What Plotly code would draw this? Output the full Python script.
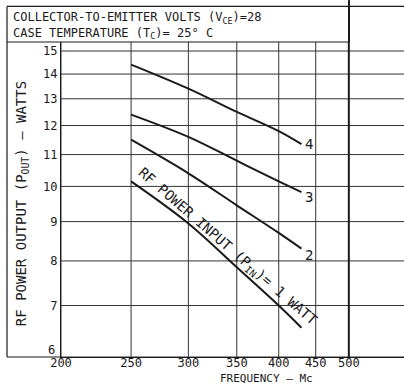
import numpy as np
import plotly.graph_objects as go

# RF power output vs frequency, one curve per input power
freq = [250, 300, 350, 400, 430]
pout_4w = [14.4, 13.4, 12.5, 11.8, 11.35]
pout_3w = [12.4, 11.6, 10.8, 10.15, 9.83]
pout_2w = [11.5, 10.4, 9.45, 8.7, 8.3]
pout_1w = [10.15, 8.95, 7.85, 7.0, 6.55]

x_ticks = [200, 250, 300, 350, 400, 450, 500]
y_ticks = [6, 7, 8, 9, 10, 11, 12, 13, 14, 15]

X_MIN, X_MAX = 200, 596
Y_MIN, Y_MAX = 6, 15.41

MONO = "DejaVu Sans Mono"
INK = "#1a1a1a"

fig = go.Figure()

# grid drawn as line traces so it follows the log axes
gx, gy = [], []
for v in x_ticks[:-1]:
    gx += [v, v, None]
    gy += [Y_MIN, Y_MAX, None]
for v in y_ticks:
    gx += [X_MIN, X_MAX, None]
    gy += [v, v, None]
fig.add_trace(go.Scatter(x=gx, y=gy, mode="lines", line=dict(color="#333", width=1),
                         showlegend=False, hoverinfo="skip"))
fig.add_trace(go.Scatter(x=[500, 500], y=[Y_MIN, Y_MAX], mode="lines",
                         line=dict(color=INK, width=2), showlegend=False, hoverinfo="skip"))

for p in [pout_4w, pout_3w, pout_2w, pout_1w]:
    fig.add_trace(go.Scatter(
        x=freq, y=p, mode="lines",
        line=dict(color=INK, width=2, shape="spline", smoothing=1.0),
        showlegend=False, hoverinfo="skip"))

# curve end labels
for lbl, yy in [("4", 11.36), ("3", 9.69), ("2", 8.14)]:
    fig.add_annotation(x=np.log10(440), y=np.log10(yy), text=lbl, showarrow=False,
                       font=dict(family=MONO, size=14, color=INK))

fig.add_annotation(x=np.log10(340), y=np.log10(8.35),
                   text="RF POWER INPUT (P<sub>IN</sub>)= 1 WATT",
                   textangle=41, showarrow=False,
                   font=dict(family=MONO, size=14, color=INK))

# lowest y label sits just above the frame corner
fig.add_annotation(xref="paper", yref="paper", x=-0.012, y=0.022, xanchor="right", yanchor="middle",
                   text=str(y_ticks[0]), showarrow=False,
                   font=dict(family=MONO, size=12, color=INK))

# header text
fig.add_annotation(xref="paper", yref="paper", x=-0.147, y=1.108, xanchor="left", yanchor="top",
                   text="COLLECTOR-TO-EMITTER VOLTS (V<sub>CE</sub>)=28<br>CASE TEMPERATURE (T<sub>C</sub>)= 25° C",
                   align="left", showarrow=False,
                   font=dict(family=MONO, size=12, color=INK))

# axis titles
fig.add_annotation(xref="paper", yref="paper", x=-0.113, y=0.486, textangle=-90,
                   xanchor="center", yanchor="middle",
                   text="RF POWER OUTPUT (P<sub>OUT</sub>) — WATTS", showarrow=False,
                   font=dict(family=MONO, size=14, color=INK))
fig.add_annotation(xref="paper", yref="paper", x=0.6, y=-0.068,
                   xanchor="center", yanchor="middle",
                   text="FREQUENCY — Mc", showarrow=False,
                   font=dict(family=MONO, size=11, color=INK))

line = dict(color=INK, width=1.2)
shapes = [
    # header box and left frame
    dict(type="line", xref="paper", yref="paper", x0=-0.1574, x1=0.8397, y0=1.0, y1=1.0, line=line),
    dict(type="line", xref="paper", yref="paper", x0=-0.1574, x1=1.0, y0=1.113, y1=1.113, line=line),
    dict(type="line", xref="paper", yref="paper", x0=-0.1574, x1=-0.1574, y0=0, y1=1.113, line=line),
    dict(type="line", xref="paper", yref="paper", x0=-0.1574, x1=0, y0=0, y1=0, line=line),
    dict(type="line", xref="paper", yref="paper", x0=0.8397, x1=0.8397, y0=1.0, y1=1.133,
         line=dict(color=INK, width=2)),
]

fig.update_layout(
    width=404, height=392,
    margin=dict(l=61, r=0, t=42, b=35),
    paper_bgcolor="white", plot_bgcolor="white",
    shapes=shapes,
    xaxis=dict(type="log", range=[np.log10(X_MIN), np.log10(X_MAX)],
               tickvals=x_ticks, ticktext=[str(v) for v in x_ticks],
               showgrid=False, showline=True, linecolor=INK, linewidth=1,
               ticks="", ticklabelstandoff=-5,
               tickfont=dict(family=MONO, size=12, color=INK)),
    yaxis=dict(type="log", range=[np.log10(Y_MIN), np.log10(Y_MAX)],
               tickvals=y_ticks[1:], ticktext=[str(v) for v in y_ticks[1:]],
               showgrid=False, showline=True, linecolor=INK, linewidth=1.2,
               ticks="", tickfont=dict(family=MONO, size=12, color=INK)),
)

fig.write_html("out.html", config={"displayModeBar": False},
               post_script="document.body.style.margin='0';")
